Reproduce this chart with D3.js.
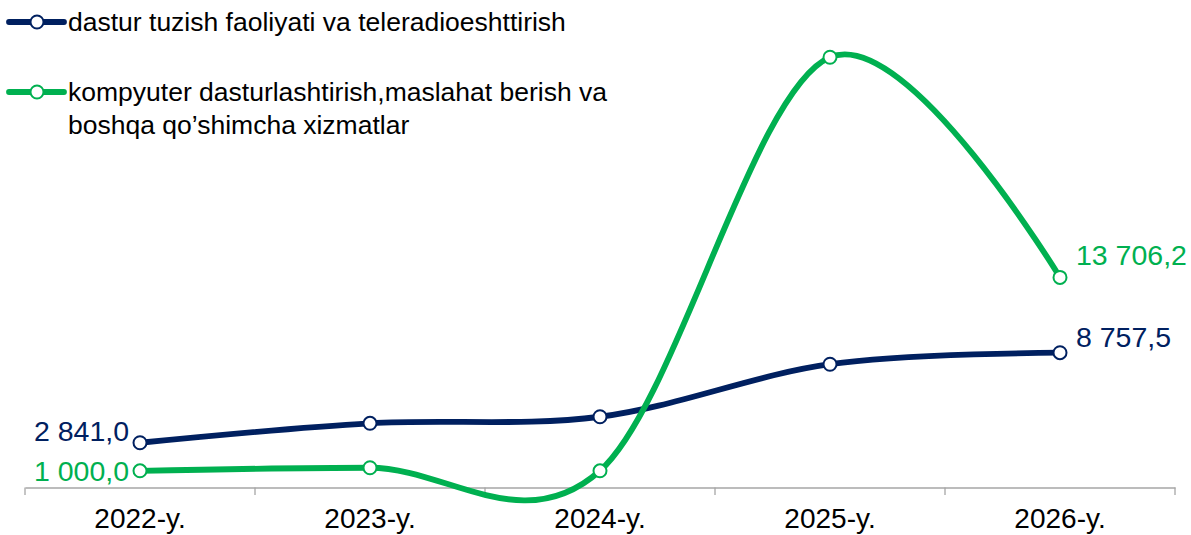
<!DOCTYPE html>
<html>
<head>
<meta charset="utf-8">
<script src="https://cdn.jsdelivr.net/npm/d3@7"></script>
<style>
  body { margin: 0; background: #fff; }
  svg { display: block; font-family: "Liberation Sans", Arial, sans-serif; }
</style>
</head>
<body>
<script>
//chart data
var years = ["2022-y.", "2023-y.", "2024-y.", "2025-y.", "2026-y."];
var seriesNames = ["dastur tuzish faoliyati va teleradioeshttirish",
                   "kompyuter dasturlashtirish,maslahat berish va boshqa qo\u2019shimcha xizmatlar"];
var broadcasting = [2841.0, 4120, 4550, 8000, 8757.5];
var computing = [1000.0, 1200, 1000, 28170, 13706.2];
var colors = ["#002060", "#00b050"];

//frame
var width = 1191,
    height = 535;

var svg = d3.select("body")
    .append("svg")
    .attr("width", width)
    .attr("height", height);

var x = d3.scaleBand()
    .domain(years)
    .range([25, 1175]);

var y = d3.scaleLinear()
    .domain([0, 30000])
    .range([486, 29.4]);

//x axis
var axis = svg.append("g")
    .attr("transform", "translate(0,487.5)")
    .call(d3.axisBottom(x).tickSize(0).tickPadding(21));
axis.select(".domain").attr("stroke", "#a6a6a6").attr("stroke-width", 1.3);
axis.selectAll("text")
    .attr("font-size", 28)
    .attr("fill", "#000")
    .attr("font-family", "Liberation Sans, Arial, sans-serif");

//tick marks on band edges
var edges = years.map(function(d){ return x(d); }).concat([x.range()[1]]);
svg.selectAll(".edge")
    .data(edges)
    .enter()
    .append("line")
    .attr("x1", function(d){ return d; })
    .attr("x2", function(d){ return d; })
    .attr("y1", 487.5)
    .attr("y2", 495)
    .attr("stroke", "#a6a6a6")
    .attr("stroke-width", 1.3);

var cx = function(d, i){ return x(years[i]) + x.bandwidth() / 2; };

var line = d3.line()
    .x(cx)
    .y(function(d){ return y(d); })
    .curve(d3.curveCatmullRom.alpha(0));

var allSeries = [broadcasting, computing];

//lines and markers
allSeries.forEach(function(values, s){
    svg.append("path")
        .datum(values)
        .attr("d", line)
        .attr("fill", "none")
        .attr("stroke", colors[s])
        .attr("stroke-width", 5.8)
        .attr("stroke-linecap", "round");

    svg.selectAll(".dot" + s)
        .data(values)
        .enter()
        .append("circle")
        .attr("cx", cx)
        .attr("cy", function(d){ return y(d); })
        .attr("r", 6.5)
        .attr("fill", "#fff")
        .attr("stroke", colors[s])
        .attr("stroke-width", 2);
});

//value labels at start and end
var fmt = function(v){
    return d3.format(",.1f")(v).replace(/,/g, " ").replace(".", ",");
};
allSeries.forEach(function(values, s){
    var first = 0, last = values.length - 1;
    svg.append("text")
        .attr("x", cx(values[first], first) - 11)
        .attr("y", y(values[first]) + (s === 0 ? -2 : 10))
        .attr("text-anchor", "end")
        .attr("font-size", 28.5)
        .attr("fill", colors[s])
        .text(fmt(values[first]));
    svg.append("text")
        .attr("x", cx(values[last], last) + 16)
        .attr("y", y(values[last]) - (s === 0 ? 6 : 12))
        .attr("text-anchor", "start")
        .attr("font-size", 28.5)
        .attr("fill", colors[s])
        .text(fmt(values[last]));
});

//legend
var legendY = [22, 92];
var legendLines = [[seriesNames[0]], ["kompyuter dasturlashtirish,maslahat berish va", "boshqa qo\u2019shimcha xizmatlar"]];
legendY.forEach(function(ly, s){
    var g = svg.append("g");
    g.append("line")
        .attr("x1", 9).attr("x2", 64)
        .attr("y1", ly).attr("y2", ly)
        .attr("stroke", colors[s])
        .attr("stroke-width", 5.8)
        .attr("stroke-linecap", "round");
    g.append("circle")
        .attr("cx", 37).attr("cy", ly)
        .attr("r", 6.5)
        .attr("fill", "#fff")
        .attr("stroke", colors[s])
        .attr("stroke-width", 2);
    legendLines[s].forEach(function(t, k){
        g.append("text")
            .attr("x", 68)
            .attr("y", ly + 9 + k * 33)
            .attr("font-size", 26.5)
            .attr("fill", "#000")
            .text(t);
    });
});
</script>
</body>
</html>
